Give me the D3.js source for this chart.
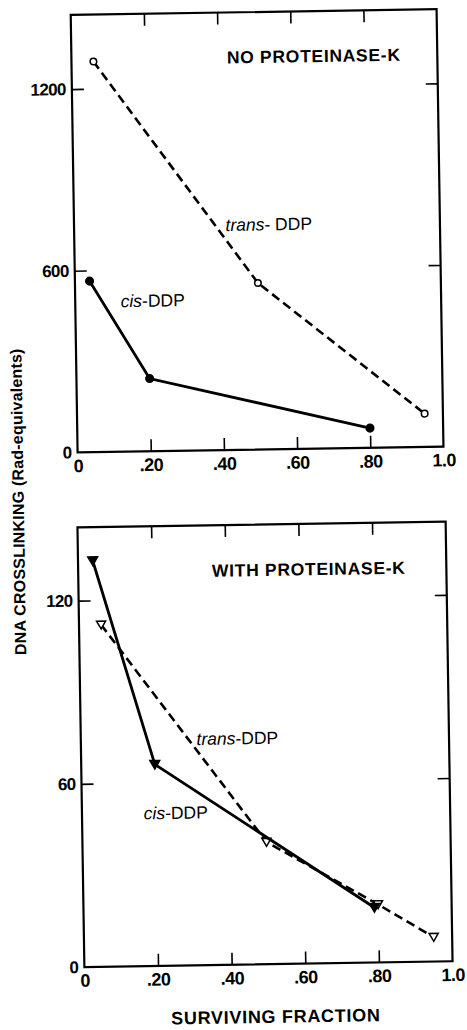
<!DOCTYPE html>
<html>
<head>
<meta charset="utf-8">
<script src="https://cdn.jsdelivr.net/npm/d3@7"></script>
<style>
  html, body { margin: 0; padding: 0; background: #fff; }
  svg { display: block; font-family: "Liberation Sans", Arial, Helvetica, sans-serif; }
</style>
</head>
<body>
<svg id="chart" width="467" height="1030"></svg>
<script>
// Surviving fraction vs. DNA crosslinking, without and with proteinase-K
const xTicks = [0, 0.2, 0.4, 0.6, 0.8, 1.0];
const xTickLabels = ["0", ".20", ".40", ".60", ".80", "1.0"];

// Panel 1: no proteinase-K
const topYTicks = [0, 600, 1200];
const topTransSurv = [0.06, 0.50, 0.95];
const topTransCross = [1290, 550, 110];
const topCisSurv = [0.04, 0.20, 0.80];
const topCisCross = [565, 240, 65];

// Panel 2: with proteinase-K
const botYTicks = [0, 60, 120];
const botCisSurv = [0.04, 0.20, 0.79];
const botCisCross = [133, 66, 18];
const botTransSurv = [0.06, 0.50, 0.80, 0.95];
const botTransCross = [112, 40, 19, 8];

const svg = d3.select("#chart");
const root = svg.append("g").attr("transform", "rotate(-0.9 260 515)");

function drawPanel(cfg) {
  const x = d3.scaleLinear().domain([0, 1]).range([cfg.left, cfg.right]);
  const y = d3.scaleLinear().domain([0, cfg.yMax]).range([cfg.bottom, cfg.top]);
  const g = root.append("g");

  // frame
  g.append("rect")
    .attr("x", cfg.left).attr("y", cfg.top)
    .attr("width", cfg.right - cfg.left).attr("height", cfg.bottom - cfg.top)
    .attr("fill", "none").attr("stroke", "#000").attr("stroke-width", 2.2);

  const inner = xTicks.slice(1, -1);
  const styleAxis = sel => {
    sel.select(".domain").remove();
    sel.selectAll(".tick line").attr("stroke", "#000").attr("stroke-width", 1.6);
    sel.selectAll(".tick text").attr("fill", "#000").attr("font-weight", "bold");
  };

  // bottom axis with labels
  g.append("g").attr("transform", `translate(0,${cfg.bottom})`)
    .call(d3.axisBottom(x).tickValues(xTicks).tickSizeInner(-12).tickSizeOuter(0).tickPadding(7)
      .tickFormat((d, i) => xTickLabels[i]))
    .call(styleAxis)
    .call(s => s.selectAll(".tick text").attr("font-size", 18).attr("letter-spacing", -0.5))
    .call(s => s.selectAll(".tick line").filter(d => d === 0 || d === 1).remove());

  // top edge ticks
  g.append("g").attr("transform", `translate(0,${cfg.top})`)
    .call(d3.axisTop(x).tickValues(inner).tickSizeInner(-12).tickSizeOuter(0).tickFormat(""))
    .call(styleAxis);

  // left axis with labels
  g.append("g").attr("transform", `translate(${cfg.left},0)`)
    .call(d3.axisLeft(y).tickValues(cfg.yTicks).tickSizeInner(-12).tickSizeOuter(0).tickPadding(6)
      .tickFormat(d3.format("d")))
    .call(styleAxis)
    .call(s => s.selectAll(".tick text").attr("font-size", 17).attr("letter-spacing", -0.6))
    .call(s => s.selectAll(".tick line").filter(d => d === 0).remove());

  // right edge ticks
  g.append("g").attr("transform", `translate(${cfg.right},0)`)
    .call(d3.axisRight(y).tickValues(cfg.yTicks.slice(1)).tickSizeInner(-12).tickSizeOuter(0).tickFormat(""))
    .call(styleAxis);

  const line = d3.line().x(d => x(d[0])).y(d => y(d[1]));

  cfg.series.forEach(s => {
    const pts = d3.zip(s.surv, s.cross);
    g.append("path").datum(pts)
      .attr("d", line)
      .attr("fill", "none").attr("stroke", "#000")
      .attr("stroke-width", s.dashed ? 2.6 : 2.8)
      .attr("stroke-dasharray", s.dashed ? "9,5" : null);

    if (s.marker === "circle") {
      g.selectAll(null).data(pts).join("circle")
        .attr("cx", d => x(d[0])).attr("cy", d => y(d[1]))
        .attr("r", s.filled ? 3.8 : 3.3)
        .attr("fill", s.filled ? "#000" : "#fff")
        .attr("stroke", "#000").attr("stroke-width", 1.5);
    } else {
      const tri = d3.symbol().type(d3.symbolTriangle).size(s.filled ? 42 : 36);
      g.selectAll(null).data(pts).join("path")
        .attr("d", tri)
        .attr("transform", d => `translate(${x(d[0])},${y(d[1]) - 1}) rotate(180)`)
        .attr("fill", s.filled ? "#000" : "#fff")
        .attr("stroke", "#000").attr("stroke-width", 1.5);
    }
  });

  // panel title
  g.append("text")
    .attr("x", cfg.title.x).attr("y", cfg.title.y)
    .attr("font-size", 17.5).attr("font-weight", "bold").attr("letter-spacing", 0.7)
    .attr("fill", "#000")
    .text(cfg.title.text);

  // series labels
  cfg.labels.forEach(l => {
    const t = g.append("text")
      .attr("x", l.x).attr("y", l.y)
      .attr("font-size", 17.5).attr("fill", "#000");
    t.append("tspan").attr("font-style", "italic").text(l.italic);
    t.append("tspan").text(l.rest);
  });
}

drawPanel({
  left: 78.6, right: 444.5, top: 12, bottom: 449.5, yMax: 1445,
  yTicks: topYTicks,
  series: [
    { surv: topTransSurv, cross: topTransCross, dashed: true, marker: "circle", filled: false },
    { surv: topCisSurv, cross: topCisCross, dashed: false, marker: "circle", filled: true }
  ],
  title: { text: "NO PROTEINASE-K", x: 234, y: 63 },
  labels: [
    { italic: "trans", rest: "- DDP", x: 230, y: 230.5 },
    { italic: "cis", rest: "-DDP", x: 124, y: 305 }
  ]
});

drawPanel({
  left: 77.3, right: 445.5, top: 524.5, bottom: 964.2, yMax: 144,
  yTicks: botYTicks,
  series: [
    { surv: botTransSurv, cross: botTransCross, dashed: true, marker: "triangle", filled: false },
    { surv: botCisSurv, cross: botCisCross, dashed: false, marker: "triangle", filled: true }
  ],
  title: { text: "WITH PROTEINASE-K", x: 211, y: 576 },
  labels: [
    { italic: "trans", rest: "-DDP", x: 193, y: 744 },
    { italic: "cis", rest: "-DDP", x: 139, y: 817.5 }
  ]
});

// shared axis titles
root.append("text")
  .attr("x", 268).attr("y", 1023)
  .attr("text-anchor", "middle")
  .attr("font-size", 18).attr("font-weight", "bold").attr("letter-spacing", 0.7)
  .attr("fill", "#000")
  .text("SURVIVING FRACTION");

root.append("text")
  .attr("transform", "translate(24,498) rotate(-90)")
  .attr("text-anchor", "middle")
  .attr("font-size", 16).attr("font-weight", "bold").attr("letter-spacing", 0.2)
  .attr("fill", "#000")
  .text("DNA CROSSLINKING (Rad-equivalents)");
</script>
</body>
</html>
